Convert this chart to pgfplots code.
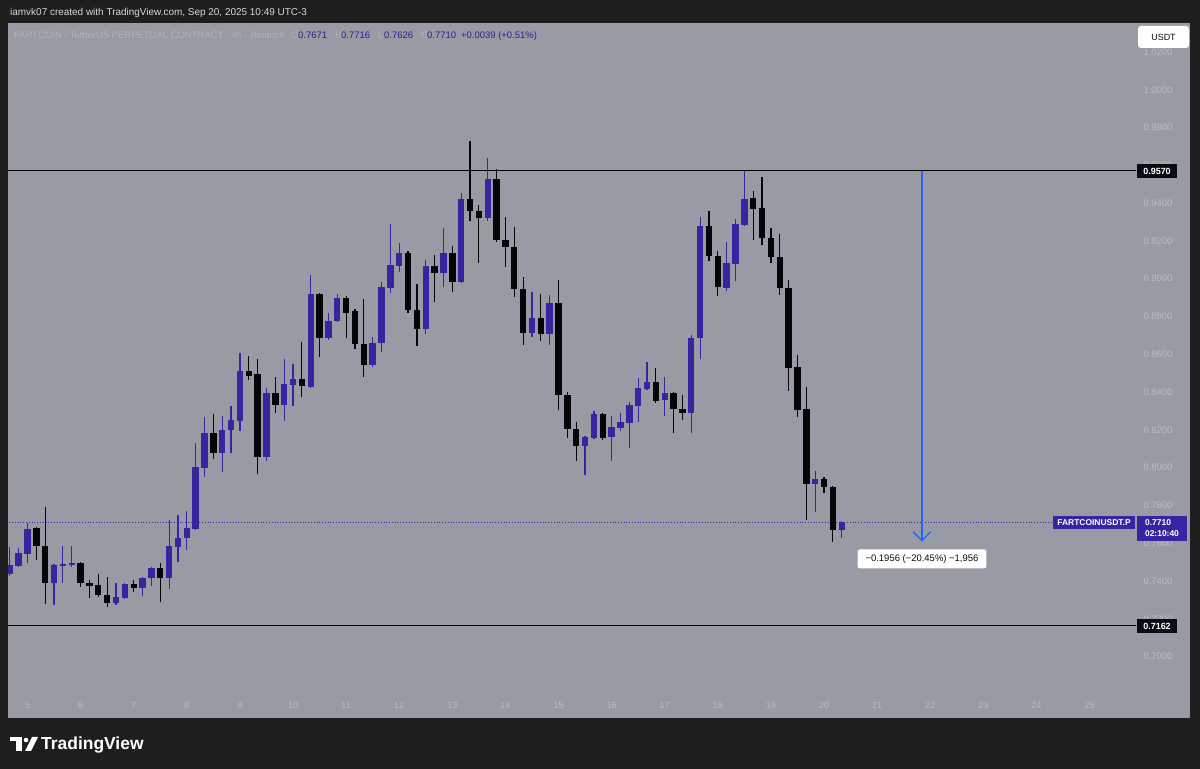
\documentclass[border=0pt]{standalone}
\usepackage{fontspec}
\setmainfont{Liberation Sans}
\usepackage{pgfplots}
\pgfplotsset{compat=1.18}
\usepackage{pgfplotstable}

\definecolor{tvdark}{RGB}{30,30,30}
\definecolor{chartbg}{RGB}{152,155,164}
\definecolor{bull}{RGB}{55,36,160}
\definecolor{bear}{RGB}{5,5,8}
\definecolor{faint}{RGB}{176,179,187}
\definecolor{ticktxt}{RGB}{186,189,196}
\definecolor{valblue}{RGB}{45,30,140}
\definecolor{tvblue}{RGB}{41,98,255}
\definecolor{tagdark}{RGB}{10,12,18}
\definecolor{headtxt}{RGB}{215,217,222}

% 4h candles, x = candle index (index 2 = day 5, 00:00)
\pgfplotstableread{
i o h l c
0 0.7437 0.7580 0.7427 0.7485
1 0.7480 0.7575 0.7474 0.7548
2 0.7543 0.7707 0.7495 0.7675
3 0.7681 0.7686 0.7511 0.7585
4 0.7585 0.7792 0.7278 0.7390
5 0.7390 0.7490 0.7273 0.7485
6 0.7480 0.7585 0.7390 0.7490
7 0.7485 0.7585 0.7474 0.7495
8 0.7495 0.7501 0.7368 0.7390
9 0.7390 0.7405 0.7310 0.7374
10 0.7379 0.7437 0.7315 0.7326
11 0.7326 0.7421 0.7263 0.7284
12 0.7284 0.7390 0.7273 0.7315
13 0.7310 0.7390 0.7305 0.7384
14 0.7384 0.7405 0.7342 0.7363
15 0.7363 0.7421 0.7321 0.7416
16 0.7416 0.7474 0.7374 0.7469
17 0.7469 0.7495 0.7289 0.7416
18 0.7416 0.7723 0.7358 0.7585
19 0.7580 0.7749 0.7501 0.7628
20 0.7628 0.7771 0.7564 0.7681
21 0.7675 0.8130 0.7670 0.8003
22 0.7998 0.8268 0.7951 0.8183
23 0.8183 0.8284 0.8046 0.8078
24 0.8078 0.8273 0.7977 0.8199
25 0.8199 0.8326 0.8078 0.8252
26 0.8247 0.8607 0.8194 0.8512
27 0.8512 0.8591 0.8464 0.8485
28 0.8496 0.8575 0.7966 0.8056
29 0.8056 0.8422 0.8035 0.8395
30 0.8395 0.8480 0.8289 0.8332
31 0.8332 0.8575 0.8247 0.8443
32 0.8437 0.8549 0.8326 0.8469
33 0.8469 0.8665 0.8374 0.8432
34 0.8427 0.9020 0.8422 0.8919
35 0.8919 0.8924 0.8586 0.8686
36 0.8686 0.8819 0.8676 0.8776
37 0.8776 0.8919 0.8771 0.8898
38 0.8898 0.8908 0.8686 0.8819
39 0.8829 0.8840 0.8628 0.8654
40 0.8654 0.8893 0.8480 0.8543
41 0.8543 0.8692 0.8533 0.8660
42 0.8660 0.8983 0.8612 0.8956
43 0.8951 0.9290 0.8924 0.9073
44 0.9067 0.9189 0.9035 0.9136
45 0.9136 0.9147 0.8819 0.8834
46 0.8834 0.8972 0.8644 0.8734
47 0.8734 0.9099 0.8707 0.9067
48 0.9067 0.9125 0.8877 0.9030
49 0.9030 0.9268 0.8956 0.9136
50 0.9136 0.9173 0.8930 0.8983
51 0.8983 0.9454 0.8977 0.9422
52 0.9422 0.9729 0.9305 0.9358
53 0.9358 0.9390 0.9083 0.9321
54 0.9321 0.9639 0.9305 0.9528
55 0.9528 0.9581 0.9194 0.9205
56 0.9205 0.9327 0.9062 0.9168
57 0.9168 0.9274 0.8903 0.8946
58 0.8946 0.9009 0.8649 0.8713
59 0.8713 0.8930 0.8692 0.8792
60 0.8792 0.8919 0.8670 0.8707
61 0.8707 0.8914 0.8649 0.8871
62 0.8871 0.8993 0.8305 0.8385
63 0.8385 0.8400 0.8157 0.8205
64 0.8205 0.8242 0.8035 0.8115
65 0.8115 0.8167 0.7961 0.8162
66 0.8157 0.8300 0.8152 0.8284
67 0.8284 0.8289 0.8146 0.8157
68 0.8162 0.8273 0.8035 0.8215
69 0.8210 0.8289 0.8194 0.8242
70 0.8236 0.8347 0.8104 0.8332
71 0.8326 0.8475 0.8242 0.8422
72 0.8416 0.8559 0.8411 0.8453
73 0.8453 0.8527 0.8342 0.8353
74 0.8358 0.8480 0.8273 0.8395
75 0.8395 0.8400 0.8183 0.8310
76 0.8310 0.8385 0.8252 0.8289
77 0.8289 0.8702 0.8183 0.8686
78 0.8686 0.9327 0.8575 0.9279
79 0.9279 0.9358 0.9094 0.9120
80 0.9120 0.9147 0.8908 0.8956
81 0.8951 0.9194 0.8935 0.9083
82 0.9078 0.9316 0.8988 0.9290
83 0.9284 0.9570 0.9279 0.9422
84 0.9427 0.9464 0.9205 0.9369
85 0.9374 0.9538 0.9178 0.9215
86 0.9215 0.9268 0.9083 0.9115
87 0.9115 0.9237 0.8914 0.8951
88 0.8951 0.8993 0.8406 0.8527
89 0.8533 0.8596 0.8268 0.8305
90 0.8310 0.8427 0.7723 0.7913
91 0.7913 0.7982 0.7765 0.7940
92 0.7940 0.7951 0.7866 0.7898
93 0.7898 0.7903 0.7607 0.7671
94 0.7671 0.7716 0.7626 0.7710
}\candles

% candles drawn as error bars: thin ones for wicks, wide ones for bodies
\pgfplotsset{
  wick/.style={draw=none, mark=none, forget plot,
    error bars/y dir=both, error bars/y explicit, error bars/error mark=none,
    error bars/error bar style={draw=#1, line width=1.2bp}},
  body/.style={draw=none, mark=none, forget plot,
    error bars/y dir=both, error bars/y explicit, error bars/error mark=none,
    error bars/error bar style={draw=#1, line width=6.4bp}},
}

\begin{document}
\begin{tikzpicture}
\useasboundingbox (0,0) rectangle (1200bp,769bp);
\fill[tvdark] (0,0) rectangle (1200bp,769bp);
\fill[chartbg] (8bp,51bp) rectangle (1190bp,746bp);

\begin{axis}[
  at={(8bp,79bp)}, anchor=south west,
  scale only axis, width=1128bp, height=667bp,
  xmin=-0.203, xmax=127.254, ymin=0.68232, ymax=1.03533,
  axis line style={draw=none}, tick style={draw=none}, major tick length=0pt,
  xtick={2,8,...,122},
  xticklabels={5,6,7,8,9,10,11,12,13,14,15,16,17,18,19,20,21,22,23,24,25},
  xticklabel style={font=\fontsize{9}{10}\selectfont, text=ticktxt, yshift=-9bp},
  ytick={0.70,0.72,0.74,0.76,0.78,0.80,0.82,0.84,0.86,0.88,0.90,0.92,0.94,0.96,0.98,1.00,1.02},
  yticklabel pos=right,
  scaled y ticks=false,
  yticklabel style={anchor=west, xshift=4bp, font=\fontsize{9.5}{11}\selectfont, text=ticktxt,
    /pgf/number format/fixed, /pgf/number format/fixed zerofill,
    /pgf/number format/precision=4, /pgf/number format/assume math mode=true},
]
% levels
\draw[black, line width=1bp] (-1,0.9570) -- (130,0.9570);
\draw[black, line width=1bp] (-1,0.7162) -- (130,0.7162);
\draw[bull, dotted, line width=0.8bp] (-1,0.7710) -- (117.88,0.7710);

% bullish candles
\addplot[wick=bull, restrict expr to domain={\thisrow{c}-\thisrow{o}}{0:1}]
  table[x=i, y expr={(\thisrow{h}+\thisrow{l})/2}, y error expr={(\thisrow{h}-\thisrow{l})/2}] {\candles};
\addplot[body=bull, restrict expr to domain={\thisrow{c}-\thisrow{o}}{0:1}]
  table[x=i, y expr={(\thisrow{o}+\thisrow{c})/2}, y error expr={max(abs(\thisrow{c}-\thisrow{o})/2,0.0005)}] {\candles};
% bearish candles
\addplot[wick=bear, restrict expr to domain={\thisrow{c}-\thisrow{o}}{-1:0}]
  table[x=i, y expr={(\thisrow{h}+\thisrow{l})/2}, y error expr={(\thisrow{h}-\thisrow{l})/2}] {\candles};
\addplot[body=bear, restrict expr to domain={\thisrow{c}-\thisrow{o}}{-1:0}]
  table[x=i, y expr={(\thisrow{o}+\thisrow{c})/2}, y error expr={max(abs(\thisrow{c}-\thisrow{o})/2,0.0005)}] {\candles};

% measure arrow
\draw[tvblue, line width=1.3bp] (103.07,0.9570) -- (103.07,0.7614);
\draw[tvblue, line width=1.3bp, line join=miter]
  ([xshift=-9bp,yshift=9bp]axis cs:103.07,0.7614) -- (axis cs:103.07,0.7614)
  -- ([xshift=9bp,yshift=9bp]axis cs:103.07,0.7614);
\node[fill=white, rounded corners=2.5bp, minimum height=19bp, inner xsep=8bp,
  font=\fontsize{9.5}{11}\selectfont, text=tagdark] at (103.07,0.7517)
  {−0.1956 (−20.45\%) −1,956};
\end{axis}

% price tags
\node[fill=tagdark, text=white, font=\bfseries\fontsize{9}{10}\selectfont,
  minimum width=40bp, minimum height=14bp, inner sep=0] at (1157bp,598bp) {0.9570};
\node[fill=tagdark, text=white, font=\bfseries\fontsize{9}{10}\selectfont,
  minimum width=40bp, minimum height=14bp, inner sep=0] at (1157bp,143bp) {0.7162};
\node[fill=bull, text=white, font=\bfseries\fontsize{8.5}{10}\selectfont,
  minimum width=82bp, minimum height=13bp, inner sep=0] at (1094bp,246.5bp) {FARTCOINUSDT.P};
\node[fill=bull, text=white, font=\bfseries\fontsize{8.5}{11}\selectfont,
  minimum width=50bp, minimum height=25bp, inner sep=0, align=left] at (1162bp,240.5bp)
  {0.7710\\02:10:40};
\node[fill=white, rounded corners=3bp, text=tagdark, font=\fontsize{9}{10}\selectfont,
  minimum width=51bp, minimum height=22bp, inner sep=0] at (1163.5bp,732bp) {USDT};

% header
\node[anchor=west, inner sep=0, text=headtxt, font=\fontsize{10}{12}\selectfont]
  at (10bp,756bp) {iamvk07 created with TradingView.com, Sep 20, 2025 10:49 UTC-3};
\begin{scope}[every node/.style={anchor=base west, inner sep=0, font=\fontsize{9.5}{11}\selectfont}]
\node[text=faint] at (14bp,730.5bp) {FARTCOIN / TetherUS PERPETUAL CONTRACT · 4h · Binance};
\node[text=faint] at (291bp,730.5bp) {O};
\node[text=valblue] at (298bp,730.5bp) {0.7671};
\node[text=faint] at (335bp,730.5bp) {H};
\node[text=valblue] at (341bp,730.5bp) {0.7716};
\node[text=faint] at (378bp,730.5bp) {L};
\node[text=valblue] at (384bp,730.5bp) {0.7626};
\node[text=faint] at (421bp,730.5bp) {C};
\node[text=valblue] at (427bp,730.5bp) {0.7710};
\node[text=valblue] at (461bp,730.5bp) {+0.0039 (+0.51\%)};
\end{scope}

% footer logo
\fill[white] (10bp,32bp) rectangle (22bp,28bp);
\fill[white] (16bp,28bp) rectangle (22bp,18bp);
\fill[white] (26bp,29bp) circle (2.3bp);
\fill[white] (25bp,18bp) -- (31bp,18bp) -- (38bp,32bp) -- (32bp,32bp) -- cycle;
\node[anchor=base west, inner sep=0, text=white, font=\bfseries\fontsize{17.5}{20}\selectfont]
  at (41bp,20bp) {TradingView};
\end{tikzpicture}
\end{document}
